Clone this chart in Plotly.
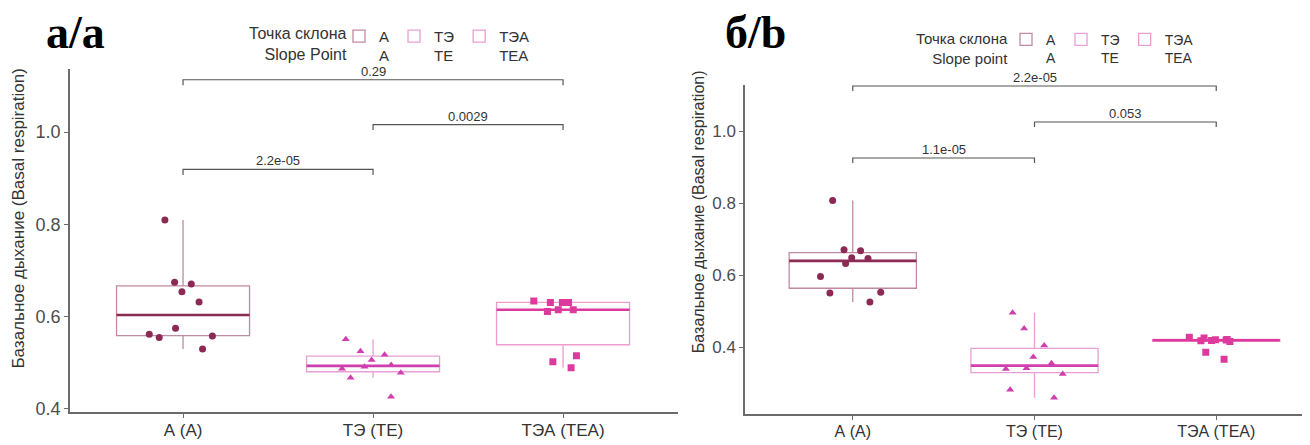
import numpy as np
import plotly.graph_objects as go

# ---------------- data ----------------
categories = ["А (A)", "ТЭ (TE)", "ТЭА (TEA)"]
legend_ru = ["А", "ТЭ", "ТЭА"]
legend_en = ["A", "TE", "TEA"]

left_A = [0.809, 0.674, 0.670, 0.653, 0.631, 0.574, 0.561, 0.557, 0.554, 0.529]
left_TE = [0.550, 0.524, 0.516, 0.505, 0.494, 0.490, 0.486, 0.477, 0.466, 0.425]
left_TEA = [0.633, 0.630, 0.630, 0.630, 0.614, 0.614, 0.610, 0.514, 0.501, 0.488]

right_A = [0.808, 0.671, 0.668, 0.649, 0.647, 0.633, 0.597, 0.553, 0.551, 0.526]
right_TE = [0.496, 0.452, 0.405, 0.373, 0.356, 0.342, 0.340, 0.326, 0.282, 0.260]
right_TEA = [0.428, 0.426, 0.422, 0.421, 0.420, 0.419, 0.418, 0.416, 0.386, 0.367]

left_pvals = ["2.2e-05", "0.0029", "0.29"]
right_pvals = ["1.1e-05", "0.053", "2.2e-05"]
pairs = [(0, 1), (1, 2), (0, 2)]

# ---------------- style ----------------
point_colors = ["#8B2A55", "#CF3FAE", "#DE3A9E"]
box_colors = ["rgba(139,42,85,0.55)", "rgba(207,63,174,0.5)", "rgba(222,58,158,0.5)"]
symbols = ["circle", "triangle-up", "square"]
FONT = "Liberation Sans, Arial, sans-serif"
AX = "#6b6b6b"

# page body has an 8px margin: figure is laid out in page pixels minus 8
W, H = 1302, 437
OFF = 8


def px(x):
    return (x - OFF) / W


def py(y):
    return 1 - (y - OFF) / H


fig = go.Figure()


def box_stats(vals):
    v = np.sort(np.asarray(vals, dtype=float))
    q1, med, q3 = np.percentile(v, [25, 50, 75])
    iqr = q3 - q1
    lo = v[v >= q1 - 1.5 * iqr].min()
    hi = v[v <= q3 + 1.5 * iqr].max()
    return q1, med, q3, lo, hi


def add_panel(groups, xa, ya, legend_name, pvals, off, step, tip):
    for i, vals in enumerate(groups):
        q1, med, q3, lo, hi = box_stats(vals)
        fig.add_trace(go.Box(
            x=[i], q1=[q1], median=[med], q3=[q3], lowerfence=[lo], upperfence=[hi],
            name=f"{legend_ru[i]}<br>{legend_en[i]}", width=0.7, whiskerwidth=0,
            boxpoints=False, fillcolor="white",
            line=dict(color=box_colors[i], width=1.3),
            xaxis=xa, yaxis=ya, legend=legend_name, showlegend=True, hoverinfo="skip",
        ))
        fig.add_trace(go.Scatter(
            x=[i - 0.35, i + 0.35], y=[med, med], mode="lines",
            line=dict(color=point_colors[i], width=2.6),
            xaxis=xa, yaxis=ya, showlegend=False, hoverinfo="skip",
        ))
        # jittered points (box itself invisible)
        fig.add_trace(go.Box(
            y=vals, x=[i] * len(vals), width=0.7, boxpoints="all", jitter=0.6, pointpos=0,
            fillcolor="rgba(0,0,0,0)", line=dict(color="rgba(0,0,0,0)", width=0),
            whiskerwidth=0,
            marker=dict(color=point_colors[i], symbol=symbols[i], size=7),
            xaxis=xa, yaxis=ya, showlegend=False, hoverinfo="y",
        ))
    ymax = max(max(g) for g in groups)
    for k, ((a, b), lab) in enumerate(zip(pairs, pvals)):
        yb = ymax + off + step * k
        fig.add_trace(go.Scatter(
            x=[a, a, b, b], y=[yb - tip, yb, yb, yb - tip], mode="lines",
            line=dict(color="#555555", width=1.2),
            xaxis=xa, yaxis=ya, showlegend=False, hoverinfo="skip",
            cliponaxis=False,
        ))
        fig.add_annotation(
            x=(a + b) / 2, y=yb, xref=xa, yref=ya, text=lab, showarrow=False,
            yanchor="bottom", yshift=-1, font=dict(family=FONT, size=13, color="#333333"),
        )


add_panel([left_A, left_TE, left_TEA], "x", "y", "legend", left_pvals, 0.11, 0.0975, 0.012)
add_panel([right_A, right_TE, right_TEA], "x2", "y2", "legend2", right_pvals, 0.118, 0.1, 0.014)

axis_common = dict(showgrid=False, zeroline=False, showline=True, linecolor=AX, linewidth=1.5,
                   ticks="outside", ticklen=4, tickcolor=AX, tickwidth=1.3)

fig.update_layout(
    width=W, height=H, margin=dict(l=0, r=0, t=0, b=0),
    paper_bgcolor="white", plot_bgcolor="white", boxmode="overlay",
    font=dict(family=FONT, color="#333333"),
    xaxis=dict(domain=[px(70), px(678)], range=[-0.595, 2.605], tickvals=[0, 1, 2], ticktext=categories,
               tickfont=dict(size=17, color="#333333"), ticklabelstandoff=-3, anchor="y", **axis_common),
    yaxis=dict(domain=[py(418), py(70)], range=[0.391, 1.137], tickvals=[0.4, 0.6, 0.8, 1.0],
               tickformat=".1f", tickfont=dict(size=18, color="#4d4d4d"), anchor="x", **axis_common),
    xaxis2=dict(domain=[px(745), 1.0], range=[-0.593, 2.516], tickvals=[0, 1, 2], ticktext=categories,
                tickfont=dict(size=16, color="#333333"), ticklabelstandoff=-2, anchor="y2", **axis_common),
    yaxis2=dict(domain=[py(420), py(86)], range=[0.2137, 1.129], tickvals=[0.4, 0.6, 0.8, 1.0],
                tickformat=".1f", tickfont=dict(size=17, color="#4d4d4d"), anchor="x2", **axis_common),
    legend=dict(orientation="h", x=px(339), y=py(20), xanchor="left", yanchor="top",
                font=dict(size=15, color="#333333"), valign="top", bgcolor="rgba(0,0,0,0)",
                itemwidth=30, tracegroupgap=0),
    legend2=dict(orientation="h", x=px(1006), y=py(24), xanchor="left", yanchor="top",
                 font=dict(size=14, color="#333333"), valign="top", bgcolor="rgba(0,0,0,0)",
                 itemwidth=30, tracegroupgap=0),
)

# legend titles (two-line, right aligned as in the reference)
fig.add_annotation(x=px(349), y=py(45), xref="paper", yref="paper",
                   text="Точка склона<br>Slope Point", align="right", showarrow=False,
                   xanchor="right", yanchor="middle", font=dict(family=FONT, size=16, color="#333333"))
fig.add_annotation(x=px(1010), y=py(49), xref="paper", yref="paper",
                   text="Точка склона<br>Slope point", align="right", showarrow=False,
                   xanchor="right", yanchor="middle", font=dict(family=FONT, size=15, color="#333333"))

# panel labels
SERIF = "Liberation Serif, Times New Roman, serif"
fig.add_annotation(x=px(44), y=1.0, xref="paper", yref="paper", text="<b>а/а</b>", showarrow=False,
                   xanchor="left", yanchor="top", yshift=3, font=dict(family=SERIF, size=46, color="#000000"))
fig.add_annotation(x=px(723), y=1.0, xref="paper", yref="paper", text="<b>б/b</b>", showarrow=False,
                   xanchor="left", yanchor="top", yshift=3, font=dict(family=SERIF, size=46, color="#000000"))

# axis titles
ytitle = "Базальное дыхание (Basal respiration)"
fig.add_annotation(x=px(18.5), y=py(222), xref="paper", yref="paper", text=ytitle, showarrow=False,
                   textangle=-90, xanchor="center", yanchor="middle", font=dict(family=FONT, size=17, color="#333333"))
fig.add_annotation(x=px(698), y=py(215), xref="paper", yref="paper", text=ytitle, showarrow=False,
                   textangle=-90, xanchor="center", yanchor="middle", font=dict(family=FONT, size=16, color="#333333"))

fig.write_html("out.html")
